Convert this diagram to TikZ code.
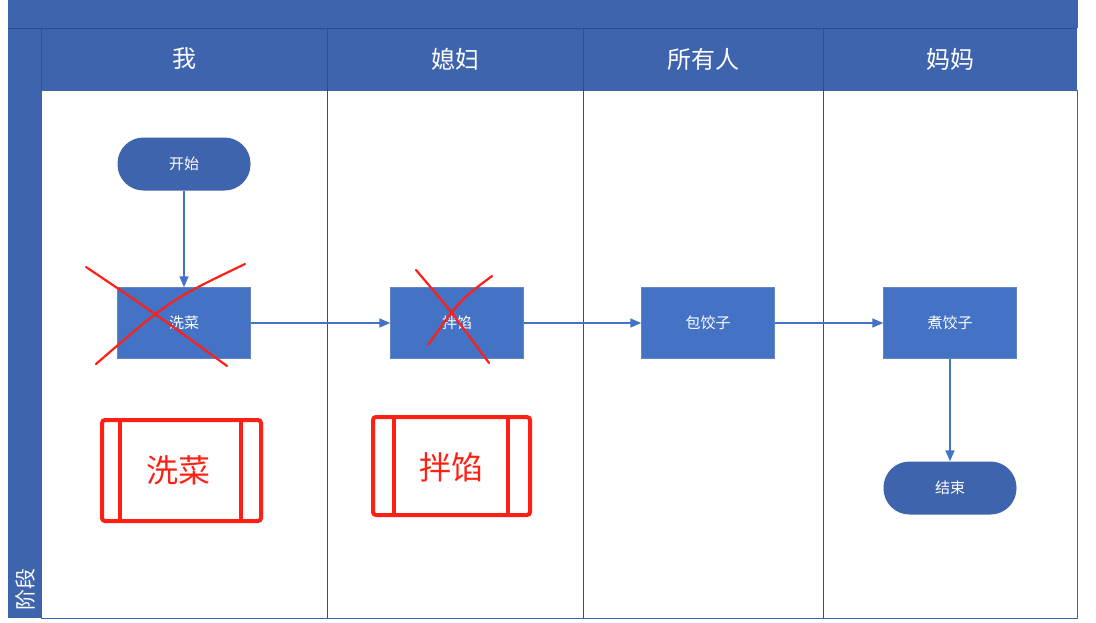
\documentclass[tikz,border=0pt]{standalone}
\usepackage{fontspec}
\setmainfont{Noto Sans CJK SC}
\usetikzlibrary{arrows.meta}
\definecolor{laneblue}{HTML}{3E64AD}
\definecolor{lanedark}{HTML}{2F4F8F}
\definecolor{boxblue}{HTML}{4472C4}
\definecolor{markred}{HTML}{FF2015}
\begin{document}
\begin{tikzpicture}[x=1pt, y=-1pt,
        % Flow shapes
        proc/.style={draw=laneblue!80, fill=boxblue, text=white, font=\fontsize{15}{17}\selectfont, minimum width=133pt, minimum height=71pt, inner sep=0pt},
        term/.style={fill=laneblue, text=white, font=\fontsize{15}{17}\selectfont, rounded corners=26pt, minimum width=133pt, minimum height=53pt, inner sep=0pt},
        % Lane header text
        header/.style={text=white, font=\fontsize{24}{28}\selectfont},
        % Connectors and marks
        flow/.style={-{Triangle[length=11pt, width=9pt]}, draw=boxblue, line width=1.5pt},
        cross/.style={draw=markred, line width=2.2pt, line cap=round},
        redbox/.style={draw=markred, line width=4pt, rounded corners=3pt}
    ]
    \useasboundingbox (0,0) rectangle (1096,622);

    % Pool frame
    \fill[laneblue] (8,0) rectangle (1078,28);
    \fill[laneblue] (8,28) rectangle (41,618);
    \fill[laneblue] (41,28) rectangle (1077,90);
    \draw[lanedark, line width=1pt] (8,28) -- (1077,28) (41,28) -- (41,618);
    \draw[laneblue, line width=1pt] (41,90) rectangle (1077,618);
    \foreach \x in {327,583,823}
        \draw[lanedark, line width=1pt] (\x,28) -- (\x,618);
    \node[text=white, font=\fontsize{21}{24}\selectfont, rotate=90, anchor=west] (stage) at (25,614) {阶段};

    % Lane headers
    \node[header] (me) at (184,59) {我};
    \node[header] (wife) at (455,59) {媳妇};
    \node[header] (all) at (703,59) {所有人};
    \node[header] (mom) at (950,59) {妈妈};

    % Flow nodes
    \node[term] (start) at (184,164) {开始};
    \node[proc] (wash) at (184,323) {洗菜};
    \node[proc] (mix) at (457,323) {拌馅};
    \node[proc] (wrap) at (708,323) {包饺子};
    \node[proc] (boil) at (950,323) {煮饺子};
    \node[term] (end) at (950,488) {结束};

    % Connectors
    \draw[flow] (start) -- (wash);
    \draw[flow] (wash) -- (mix);
    \draw[flow] (mix) -- (wrap);
    \draw[flow] (wrap) -- (boil);
    \draw[flow] (boil) -- (end);

    % Red crosses
    \draw[cross] (86,267) .. controls (150,310) .. (227,366);
    \draw[cross] (245,264) .. controls (170,300) .. (96,364);
    \draw[cross] (416,270) .. controls (450,310) .. (489,363);
    \draw[cross] (492,276) .. controls (460,300) .. (428,345);

    % Red marked boxes
    \draw[redbox] (102,420) rectangle (261,521);
    \draw[markred, line width=4pt] (120,420) -- (120,521) (241,420) -- (241,521);
    \node[text=markred, font=\fontsize{32}{36}\selectfont] (washnote) at (178,470) {洗菜};
    \draw[redbox] (373,417) rectangle (530,515);
    \draw[markred, line width=4pt] (394,417) -- (394,515) (508,417) -- (508,515);
    \node[text=markred, font=\fontsize{32}{36}\selectfont] (mixnote) at (451,467) {拌馅};
\end{tikzpicture}
\end{document}
